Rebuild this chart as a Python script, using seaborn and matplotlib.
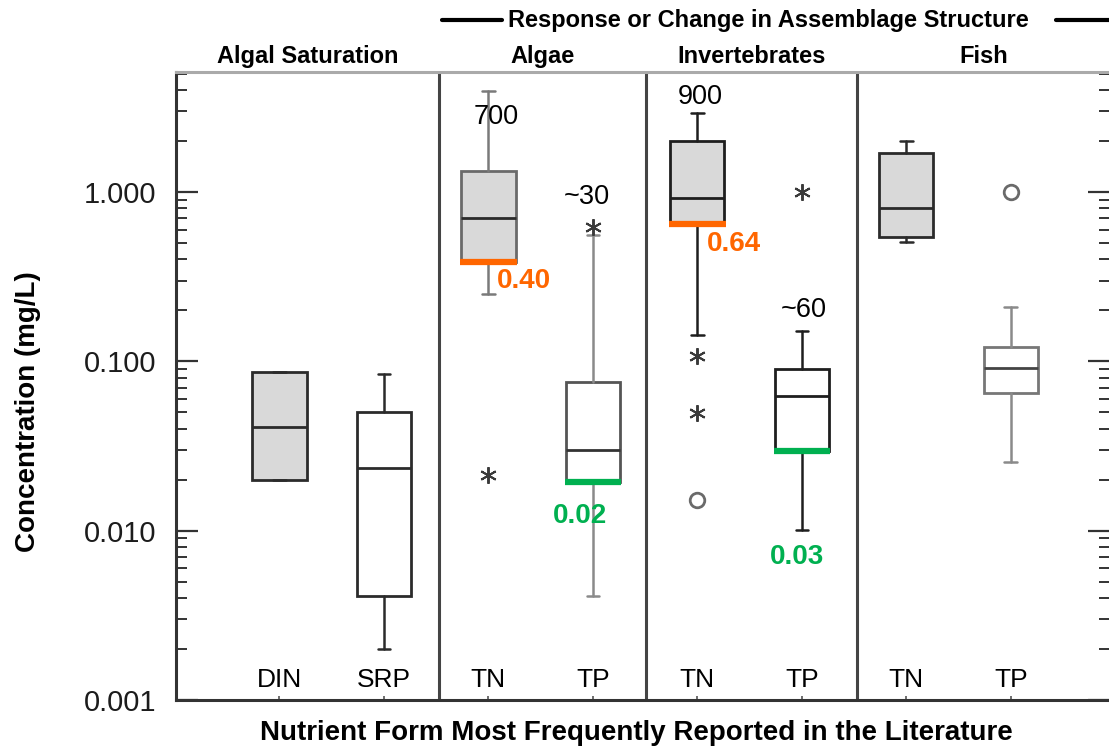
import numpy as np
import pandas as pd
import matplotlib
matplotlib.use("Agg")
import matplotlib.pyplot as plt
import matplotlib.transforms as mtransforms
from matplotlib.lines import Line2D
from matplotlib.ticker import LogLocator, FuncFormatter, NullFormatter
import seaborn as sns

# ---------------- data ----------------
nutrients = ["DIN", "SRP", "TN", "TP", "TN", "TP", "TN", "TP"]
panel_titles = ["Algal Saturation", "Algae", "Invertebrates", "Fish"]
super_title = "Response or Change in Assemblage Structure"

whislo = [0.020, 0.0020, 0.25, 0.0041, 0.144, 0.0101, 0.507, 0.0254]
q1 = [0.020, 0.0041, 0.385, 0.0195, 0.645, 0.0295, 0.546, 0.065]
med = [0.041, 0.0236, 0.70, 0.030, 0.92, 0.0624, 0.80, 0.091]
q3 = [0.0865, 0.050, 1.34, 0.0755, 2.00, 0.0903, 1.71, 0.122]
whishi = [0.0865, 0.0838, 3.95, 0.557, 2.93, 0.151, 2.01, 0.21]

star_box = [2, 3, 4, 4, 5]
star_val = [0.0213, 0.624, 0.107, 0.0495, 1.0]
circle_box = [4, 7]
circle_val = [0.0152, 1.0]

n_box = [2, 3, 4, 5]
n_labels = ["700", "~30", "900", "~60"]

thr_box = [2, 3, 4, 5]
thr_labels = ["0.40", "0.02", "0.64", "0.03"]

# ---------------- style ----------------
sns.set_style("white")
plt.rcParams["font.family"] = ["Liberation Sans", "DejaVu Sans"]
plt.rcParams["text.color"] = "black"

W, H = 1109, 748
fig = plt.figure(figsize=(W / 100, H / 100), dpi=100)
ax = fig.add_axes([176 / W, 1 - 700 / H, (1110 - 176) / W, (700 - 72) / H])

positions = np.arange(len(nutrients))
fills = ["#d9d9d9", "white"] * 4
edge = ["#2b2b2b", "#2b2b2b", "#6a6a6a", "#555555", "#1e1e1e", "#1e1e1e", "#2b2b2b", "#777777"]
whisk = ["#2b2b2b", "#2b2b2b", "#7a7a7a", "#8a8a8a", "#1e1e1e", "#1e1e1e", "#2b2b2b", "#8a8a8a"]
medc = ["#2b2b2b", "#2b2b2b", "#2b2b2b", "#333333", "#1e1e1e", "#1e1e1e", "#2b2b2b", "#444444"]

stats = [dict(label=n, whislo=a, q1=b, med=c, q3=d, whishi=e, fliers=[])
         for n, a, b, c, d, e in zip(nutrients, whislo, q1, med, q3, whishi)]
bp = ax.bxp(stats, positions=positions, widths=0.52, capwidths=0.12,
            patch_artist=True, showfliers=False, manage_ticks=False)
for i, box in enumerate(bp["boxes"]):
    box.set_facecolor(fills[i])
    box.set_edgecolor(edge[i])
    box.set_linewidth(2.0)
    bp["medians"][i].set_color(medc[i])
    bp["medians"][i].set_linewidth(2.0)
    for k in (2 * i, 2 * i + 1):
        bp["whiskers"][k].set_color(whisk[i])
        bp["whiskers"][k].set_linewidth(1.8)
        bp["caps"][k].set_color(whisk[i])
        bp["caps"][k].set_linewidth(1.8)

# outliers
star_df = pd.DataFrame({"x": positions[star_box], "y": star_val})
circ_df = pd.DataFrame({"x": positions[circle_box], "y": circle_val})
ax.plot(star_df["x"], star_df["y"], linestyle="none", marker=(6, 2, 0),
        markersize=12, markeredgewidth=1.4, color="#3a3a3a")
sns.scatterplot(data=circ_df, x="x", y="y", ax=ax, marker="o", s=110,
                facecolor="white", edgecolor="#6a6a6a", linewidth=2, zorder=4)

# threshold lines (at lower quartile) and labels
thr_colors = ["#ff6600", "#00b050", "#ff6600", "#00b050"]
for b, c in zip(thr_box, thr_colors):
    ax.plot([positions[b] - 0.27, positions[b] + 0.27], [q1[b], q1[b]],
            color=c, linewidth=4.5, solid_capstyle="butt", zorder=5)
thr_pos = [(2.345, 0.298), (2.88, 0.0122), (4.354, 0.49), (4.957, 0.00698)]
for (x, y), t, c in zip(thr_pos, thr_labels, thr_colors):
    ax.text(x, y, t, color=c, fontsize=20, fontweight="bold", ha="center", va="center")

n_pos = [(2.07, 2.77), (2.94, 0.934), (4.03, 3.64), (5.02, 0.201)]
for (x, y), t in zip(n_pos, n_labels):
    ax.text(x, y, t, color="black", fontsize=19.5, ha="center", va="center")

# panel dividers
dividers = [1.53, 3.51, 5.53]
for d in dividers:
    ax.axvline(d, color="#444444", linewidth=2.2, zorder=1)

# axes
ax.set_yscale("log")
ax.set_ylim(0.001, 5.115)
ax.set_xlim(-0.99, 7.95)
ax.set_xticks(positions)
ax.set_xticklabels(nutrients)
ax.yaxis.set_major_locator(LogLocator(base=10, numticks=10))
ax.yaxis.set_minor_locator(LogLocator(base=10, subs=np.arange(2, 10), numticks=20))
ax.yaxis.set_major_formatter(FuncFormatter(lambda v, p: f"{v:.3f}"))
ax.yaxis.set_minor_formatter(NullFormatter())
ax.tick_params(axis="y", which="major", direction="in", length=16, width=1.6,
               labelsize=21, labelcolor="#1c1c1c", pad=14, left=True, right=True,
               color="#333333")
ax.tick_params(axis="y", which="minor", direction="in", length=8, width=1.4,
               left=True, right=True, color="#333333")
ax.tick_params(axis="x", which="major", direction="in", length=3, width=1.2,
               labelsize=19, labelcolor="black", pad=-23, bottom=True, color="#555555")
for s in ("left", "bottom"):
    ax.spines[s].set_color("#333333")
    ax.spines[s].set_linewidth(2.2)
ax.spines["top"].set_color("#aaaaaa")
ax.spines["top"].set_linewidth(2.2)
ax.spines["right"].set_visible(False)
ax.set_xlabel("")
ax.set_ylabel("")

# panel titles
trans = mtransforms.blended_transform_factory(ax.transData, ax.transAxes)
edges = [-0.99] + dividers + [7.95]
for i, t in enumerate(panel_titles):
    ax.text((edges[i] + edges[i + 1]) / 2, 1.024, t, transform=trans,
            fontsize=17, fontweight="bold", color="black", ha="center", va="center")

ax.text(4.68, 1.0828, super_title, transform=trans, fontsize=17,
        fontweight="bold", color="black", ha="center", va="center")
for x0, x1 in [(1.555, 2.13), (7.43, 7.95)]:
    ax.add_line(Line2D([x0, x1], [1.0828, 1.0828], transform=trans, color="black",
                       linewidth=3, clip_on=False))

fig.text(28 / W, 1 - 412 / H, "Concentration (mg/L)", rotation=90, fontsize=20,
         fontweight="bold", color="black", ha="center", va="center")
fig.text(636.5 / W, 1 - 733 / H, "Nutrient Form Most Frequently Reported in the Literature",
         fontsize=20, fontweight="bold", color="black", ha="center", va="center")

fig.savefig("out.png", dpi=100)
